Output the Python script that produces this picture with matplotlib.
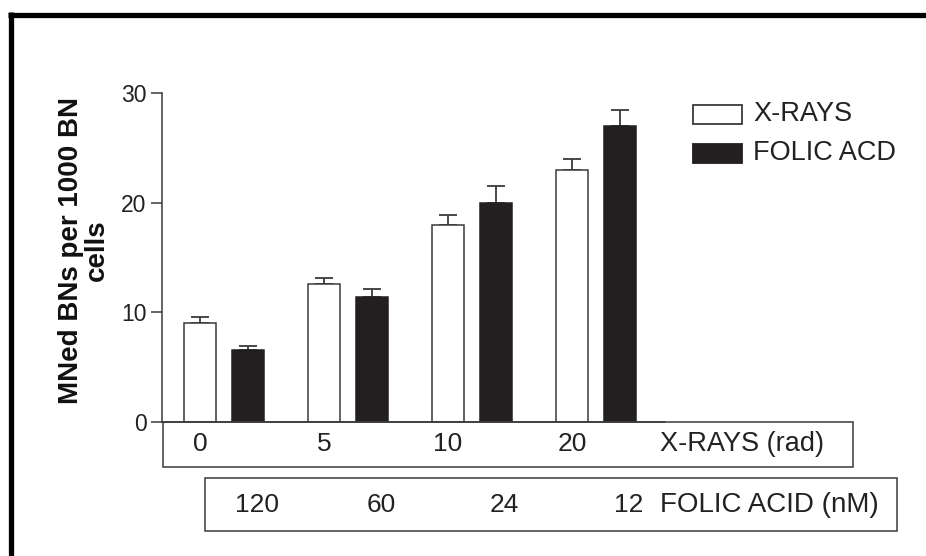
import matplotlib
matplotlib.use('Agg')
import matplotlib.pyplot as plt
from matplotlib.patches import Rectangle
from matplotlib.lines import Line2D
import numpy as np

plt.rcParams['font.family'] = ['Liberation Sans', 'DejaVu Sans']

# data
xray_doses = ['0', '5', '10', '20']
folic_doses = ['120', '60', '24', '12']
xray_vals = [9.0, 12.6, 18.0, 23.0]
xray_err = [0.55, 0.55, 0.9, 0.95]
folic_vals = [6.6, 11.4, 20.0, 27.0]
folic_err = [0.3, 0.7, 1.5, 1.45]
series_names = ['X-RAYS', 'FOLIC ACD']

W, H = 926, 556
DARK = '#231f20'
EDGE = '#3a3a3a'


def fx(px):
    return px / W


def fy(py):
    return 1 - py / H


fig = plt.figure(figsize=(W / 100, H / 100), dpi=100)
ax = fig.add_axes([fx(162), fy(422), fx(665) - fx(162), fy(93) - fy(422)])

x = np.arange(len(xray_doses))
off = 0.194
bw = 0.258
ax.bar(x - off, xray_vals, bw, color='white', edgecolor=EDGE, linewidth=1.1, zorder=2)
ax.bar(x + off, folic_vals, bw, color=DARK, edgecolor=DARK, linewidth=1.1, zorder=2)
ax.errorbar(x - off, xray_vals, yerr=[np.zeros(4), xray_err], fmt='none',
            ecolor=EDGE, elinewidth=1.3, capsize=6.3, capthick=1.3, zorder=1)
ax.errorbar(x + off, folic_vals, yerr=[np.zeros(4), folic_err], fmt='none',
            ecolor=EDGE, elinewidth=1.3, capsize=6.3, capthick=1.3, zorder=1)

ax.set_xlim(-0.5, 3.556)
ax.set_ylim(0, 30)
ax.set_yticks([0, 10, 20, 30])
ax.set_xticks([])
ax.spines['top'].set_visible(False)
ax.spines['right'].set_visible(False)
for s in ('left', 'bottom'):
    ax.spines[s].set_color(EDGE)
    ax.spines[s].set_linewidth(1.1)
ax.tick_params(axis='y', length=8, width=1.1, color=EDGE, labelsize=16.5,
               labelcolor='#222222', pad=3)

# y label
fig.text(fx(84), fy(250), 'MNed BNs per 1000 BN\ncells', rotation=90,
         ha='center', va='center', fontsize=20, fontweight='bold',
         linespacing=1.0, color='#111111')

# dose boxes under the axis
fig.add_artist(Rectangle((fx(163), fy(467)), fx(853) - fx(163), fy(422) - fy(467),
                         transform=fig.transFigure, fill=False, edgecolor=EDGE, lw=1.1))
fig.add_artist(Rectangle((fx(205), fy(531)), fx(897) - fx(205), fy(478) - fy(531),
                         transform=fig.transFigure, fill=False, edgecolor=EDGE, lw=1.1))

trans = matplotlib.transforms.blended_transform_factory(ax.transData, fig.transFigure)
for i, lab in enumerate(xray_doses):
    ax.text(x[i] - off, fy(444), lab, transform=trans, ha='center', va='center',
            fontsize=19, color='#222222')
for i, lab in enumerate(folic_doses):
    ax.text(x[i] + off + 0.07, fy(505), lab, transform=trans, ha='center', va='center',
            fontsize=19, color='#222222')
fig.text(fx(660), fy(444), 'X-RAYS (rad)', ha='left', va='center', fontsize=19.5,
         color='#222222')
fig.text(fx(660), fy(505), 'FOLIC ACID (nM)', ha='left', va='center', fontsize=20,
         color='#222222')

# legend
for name, fc, cy in zip(series_names, ['white', DARK], [114.5, 153.5]):
    fig.add_artist(Rectangle((fx(693), fy(cy + 9.5)), fx(742) - fx(693), fy(cy - 9.5) - fy(cy + 9.5),
                             transform=fig.transFigure, facecolor=fc, edgecolor=EDGE if fc == 'white' else DARK,
                             lw=1.3))
    fig.text(fx(753), fy(cy), name, ha='left', va='center', fontsize=19.5, color='#222222')

# outer frame (top and left only)
fig.add_artist(Line2D([fx(8), 1.0], [fy(14.5), fy(14.5)], transform=fig.transFigure,
                      color='black', lw=3.8, solid_capstyle='butt'))
fig.add_artist(Line2D([fx(10.5), fx(10.5)], [fy(12), 0.0], transform=fig.transFigure,
                      color='black', lw=3.8, solid_capstyle='butt'))

fig.savefig('out.png', dpi=100)
